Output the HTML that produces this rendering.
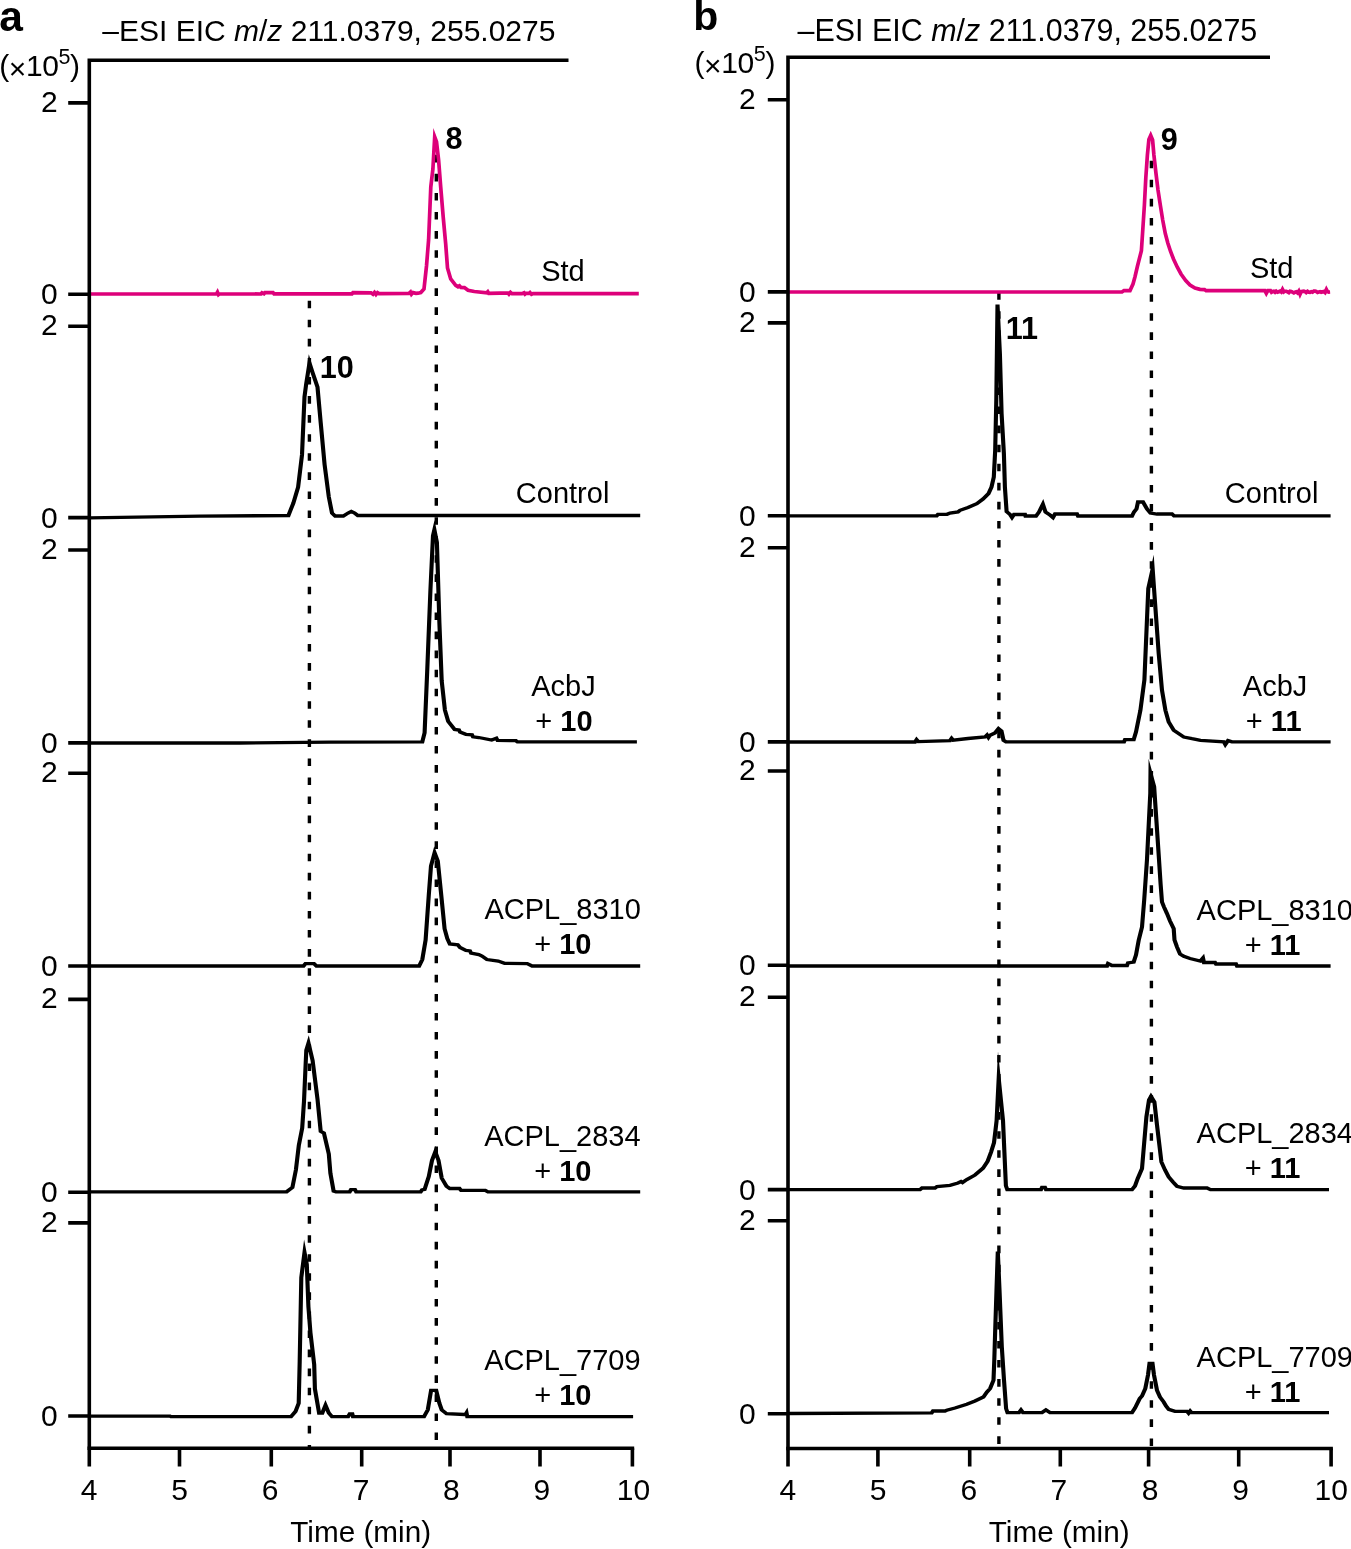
<!DOCTYPE html>
<html lang="en"><head><meta charset="utf-8"><title>EIC chromatograms</title>
<style>html,body{margin:0;padding:0;background:#fff;overflow:hidden}svg{display:block}text{font-family:"Liberation Sans",Arial,Helvetica,sans-serif;font-size:30px;fill:#000}.b{font-weight:bold}.i{font-style:italic}.e{text-anchor:end}.m{text-anchor:middle}.ax{stroke:#000;stroke-width:3.60;fill:none;stroke-linecap:butt}.tr{fill:none;stroke-width:3.4px;stroke-linejoin:miter;stroke-miterlimit:20;stroke-linecap:butt}.ds{stroke:#000;stroke-width:3.4;stroke-dasharray:7.6 11.47;fill:none}</style></head><body>
<svg width="1351" height="1549" viewBox="0 0 1351 1549">
<rect width="1351" height="1549" fill="#fff"/>
<line class="ds" x1="309.4" y1="300.7" x2="309.4" y2="1447.5"/>
<line class="ds" x1="436.3" y1="154.8" x2="436.3" y2="1447.5"/>
<line class="ds" x1="998.9" y1="292.1" x2="998.9" y2="1447.5"/>
<line class="ds" x1="1151.4" y1="160.7" x2="1151.4" y2="1447.5"/>
<polyline class="tr" stroke="#dd007a" style="stroke-width:3.7px" points="89.3,294.0 216.5,294.0 217.5,292.2 218.5,294.6 219.5,293.8 261.0,294.0 262.0,292.8 264.0,293.8 265.0,292.6 273.0,292.6 274.0,293.8 352.0,293.8 353.0,292.6 371.0,292.8 373.0,294.2 374.5,292.4 376.0,294.4 377.5,292.6 379.0,293.6 409.0,293.4 410.5,292.0 411.5,294.2 413.0,292.6 416.0,293.4 418.0,293.2 420.8,292.6 424.0,289.0 426.5,266.0 428.6,240.0 430.8,187.0 432.9,169.0 434.7,136.8 436.5,141.6 438.6,160.0 440.7,187.0 443.2,217.0 445.7,244.0 447.5,268.0 450.7,279.0 455.7,285.3 458.0,286.8 459.5,285.8 461.0,287.4 464.4,287.6 468.0,290.3 474.3,291.5 486.8,292.8 487.8,291.8 488.8,293.4 500.0,293.2 508.0,293.0 509.0,294.2 510.5,292.4 512.0,293.6 522.0,293.6 524.0,292.8 525.0,294.2 526.0,293.4 529.0,293.4 530.0,292.6 531.5,294.2 533.0,293.6 638.8,293.7"/>
<g transform="scale(1.25,1)"><polyline class="tr" stroke="#000" style="stroke-width:3.3px" points="71.44,517.9 160.00,516.2 230.72,515.5 232.00,511.4 234.64,503.3 238.48,487.2 241.60,454.9 243.60,396.8 244.96,383.9 247.60,363.0 250.08,372.6 254.00,387.1 256.56,422.6 259.68,464.6 263.04,496.9 265.60,513.0 268.16,516.0 274.64,516.0 278.48,513.0 281.04,511.4 283.68,513.0 286.24,515.5 512.16,515.5"/></g>
<g transform="scale(1.25,1)"><polyline class="tr" stroke="#000" style="stroke-width:3.3px" points="71.44,743.0 192.00,743.0 264.00,742.2 337.84,741.9 339.68,732.7 341.76,671.4 344.32,590.7 346.40,535.8 347.52,529.7 349.52,542.3 351.52,623.0 353.36,681.0 355.92,710.0 358.56,721.4 363.68,729.5 367.20,730.0 368.00,732.0 372.72,734.3 377.60,734.8 378.40,736.8 383.04,737.5 393.36,740.0 397.12,738.3 398.08,740.4 412.72,740.7 414.00,741.9 509.52,741.9"/></g>
<g transform="scale(1.25,1)"><polyline class="tr" stroke="#000" style="stroke-width:3.3px" points="71.44,966.0 242.80,966.0 244.40,963.6 251.20,963.6 253.20,966.0 335.28,966.0 337.84,959.5 340.48,940.0 343.04,894.9 344.80,865.9 347.68,852.7 350.24,861.0 352.72,891.7 355.68,928.8 357.84,938.5 359.84,944.0 366.24,944.9 368.00,947.5 372.72,950.4 376.00,951.0 376.80,953.0 383.04,954.6 385.60,956.0 389.52,959.5 398.56,961.1 403.68,963.3 421.76,963.7 425.68,966.0 512.16,966.0"/></g>
<g transform="scale(1.25,1)"><polyline class="tr" stroke="#000" style="stroke-width:3.3px" points="71.44,1191.8 229.28,1191.8 230.88,1190.3 233.92,1187.5 236.72,1169.9 239.04,1145.5 241.76,1128.0 243.20,1101.3 244.56,1063.0 245.04,1050.2 246.80,1043.0 250.08,1060.4 254.00,1099.1 256.56,1131.4 259.12,1133.0 263.04,1154.0 264.32,1173.3 266.88,1191.0 268.80,1191.8 279.76,1191.8 280.80,1189.6 284.00,1189.6 284.96,1191.8 336.56,1191.8 337.60,1190.0 339.68,1189.4 343.04,1176.5 345.60,1160.4 348.24,1151.7 350.80,1160.4 353.36,1178.1 357.20,1186.2 359.84,1188.5 367.60,1188.5 368.88,1190.4 388.24,1190.4 390.32,1191.8 512.16,1191.8"/></g>
<g transform="scale(1.25,1)"><polyline class="tr" stroke="#000" style="stroke-width:3.3px" points="71.44,1416.2 136.00,1416.2 136.80,1416.7 232.80,1416.7 236.40,1411.4 238.96,1403.3 239.76,1361.4 241.04,1277.5 243.60,1252.5 245.44,1264.5 246.72,1306.5 248.32,1332.3 251.36,1364.6 251.92,1388.8 255.28,1413.0 257.84,1413.0 260.40,1405.2 263.04,1413.0 265.60,1416.7 278.48,1416.7 279.76,1414.0 281.84,1414.0 282.40,1416.7 339.20,1416.7 342.24,1409.8 344.88,1390.4 348.96,1390.4 351.52,1403.3 353.36,1409.8 357.20,1413.6 371.44,1414.5 372.48,1414.2 373.20,1412.8 373.84,1416.7 506.48,1416.7"/></g>
<polyline class="tr" stroke="#dd007a" style="stroke-width:3.7px" points="788.0,292.0 1122.0,292.0 1124.0,290.6 1130.0,290.6 1133.0,284.0 1135.0,276.7 1137.5,266.0 1141.4,250.7 1142.9,228.0 1144.4,205.0 1145.8,178.0 1147.4,155.0 1148.9,139.5 1150.7,135.5 1152.6,140.0 1153.9,155.0 1155.9,172.7 1158.0,190.0 1160.3,205.0 1162.7,220.0 1165.3,233.5 1167.8,243.0 1170.4,251.0 1173.5,259.0 1177.2,267.0 1181.0,274.0 1185.7,280.5 1190.0,285.0 1195.0,288.0 1200.0,289.4 1204.5,289.6 1206.0,290.7 1264.8,290.7 1266.3,293.4 1267.8,290.7 1270.5,290.7 1271.5,292.2 1272.5,291.6 1273.8,291.3 1275.0,292.3 1276.2,291.1 1277.5,292.1 1278.8,291.7 1280.0,291.1 1281.2,292.0 1282.5,289.4 1283.8,291.9 1285.0,291.1 1286.2,291.2 1287.5,291.9 1288.8,292.6 1290.0,291.2 1291.2,291.4 1292.5,292.2 1293.8,292.9 1295.0,292.1 1296.2,291.8 1297.5,292.9 1298.8,291.1 1300.0,294.2 1301.2,291.6 1302.5,291.3 1303.8,291.2 1305.0,291.6 1306.2,292.6 1307.5,291.4 1308.8,292.2 1310.0,292.3 1311.2,291.7 1312.5,292.1 1313.8,291.1 1315.0,291.1 1316.2,291.4 1317.5,292.4 1318.8,291.9 1320.0,291.6 1321.2,292.2 1322.5,291.9 1323.8,291.6 1325.0,292.6 1326.4,289.4 1327.5,291.5 1328.8,292.1 1330.1,292.0"/>
<g transform="scale(1.25,1)"><polyline class="tr" stroke="#000" style="stroke-width:3.3px" points="630.40,515.8 749.36,515.8 750.40,514.3 757.60,514.3 760.00,513.0 766.40,512.0 768.00,510.3 774.40,507.5 781.44,503.6 786.40,499.0 790.80,493.6 793.20,487.0 795.04,477.0 796.16,450.0 797.04,400.0 798.00,304.5 799.92,353.7 801.28,413.8 803.12,453.9 803.92,487.2 805.28,511.5 808.00,514.5 809.60,517.5 811.20,514.5 820.00,514.5 820.40,516.0 828.80,516.0 831.20,512.0 834.32,504.2 836.40,512.0 840.00,515.0 842.40,517.5 844.00,514.0 861.60,514.0 862.40,516.0 905.60,516.0 907.20,512.0 909.20,509.0 910.40,502.0 914.40,502.0 917.60,509.0 920.32,513.0 925.60,514.0 937.60,514.0 939.20,515.8 1064.48,515.8"/></g>
<g transform="scale(1.25,1)"><polyline class="tr" stroke="#000" style="stroke-width:3.3px" points="630.40,742.0 732.00,742.0 733.28,739.6 734.72,741.6 760.00,740.6 761.28,738.4 762.56,740.2 774.40,738.5 788.00,737.0 789.60,735.0 790.80,737.5 792.00,735.3 796.00,733.0 798.80,728.6 801.20,731.0 802.80,740.3 804.80,741.9 899.20,741.9 900.00,739.7 906.96,739.7 908.80,732.0 912.32,710.3 915.52,680.0 918.64,588.5 922.12,569.0 924.08,603.5 926.96,653.5 929.60,690.3 932.32,710.3 934.96,722.0 938.96,730.3 947.04,737.0 953.60,738.7 960.40,740.3 979.04,741.9 980.24,744.6 982.40,740.6 985.60,741.9 1064.48,741.9"/></g>
<g transform="scale(1.25,1)"><polyline class="tr" stroke="#000" style="stroke-width:3.3px" points="630.40,966.0 885.60,966.0 886.40,963.5 889.60,965.5 901.60,965.5 902.40,963.0 906.96,962.0 908.80,955.0 910.96,940.3 913.60,927.0 915.36,900.0 917.60,859.5 920.24,793.0 920.40,773.4 923.32,786.8 927.20,859.5 928.48,884.0 929.60,902.0 931.20,907.0 933.60,913.6 936.00,921.0 938.96,928.6 939.60,940.0 941.60,947.0 944.00,954.0 947.04,956.3 952.00,958.5 960.32,961.0 962.40,958.0 963.20,962.5 972.00,962.5 972.80,964.0 988.80,964.0 989.60,966.0 1064.48,966.0"/></g>
<g transform="scale(1.25,1)"><polyline class="tr" stroke="#000" style="stroke-width:3.3px" points="630.40,1189.6 736.00,1189.6 737.60,1188.0 748.00,1188.0 749.60,1186.5 760.00,1185.3 766.40,1183.0 768.80,1181.6 770.00,1182.6 773.44,1179.6 780.00,1175.0 786.40,1168.2 790.08,1161.3 792.88,1152.0 795.20,1142.7 796.32,1131.0 797.28,1120.6 798.96,1078.4 802.40,1120.6 804.72,1185.7 805.84,1189.6 832.80,1189.6 833.60,1187.5 836.00,1187.5 836.80,1189.6 905.60,1189.6 908.00,1186.0 910.16,1178.6 913.60,1168.6 915.20,1145.0 917.12,1117.0 919.20,1100.0 920.80,1096.4 923.52,1101.9 925.60,1125.0 929.12,1162.0 932.00,1170.0 934.96,1177.0 938.40,1182.0 941.60,1186.3 947.04,1188.0 965.60,1188.0 968.40,1189.6 1063.20,1189.6"/></g>
<g transform="scale(1.25,1)"><polyline class="tr" stroke="#000" style="stroke-width:3.3px" points="630.40,1413.5 745.36,1412.8 746.40,1411.0 756.00,1411.0 757.36,1410.3 764.00,1408.0 773.44,1404.3 780.00,1401.0 786.72,1397.0 789.60,1392.0 792.08,1388.6 794.80,1380.3 795.44,1360.0 796.08,1333.5 797.20,1290.0 798.24,1251.6 799.60,1290.0 801.44,1346.9 803.20,1380.0 804.88,1408.6 806.00,1412.6 815.20,1412.6 816.80,1410.0 818.40,1412.6 833.60,1412.6 836.72,1410.0 840.00,1412.6 905.60,1412.6 908.00,1408.0 911.76,1398.6 913.60,1396.0 916.24,1388.6 918.40,1375.0 919.60,1363.5 922.00,1363.5 923.20,1375.0 925.60,1390.3 928.00,1397.0 930.96,1402.0 932.80,1406.0 934.96,1409.3 940.00,1411.3 949.60,1411.3 950.88,1413.2 952.16,1411.0 953.28,1412.6 1063.20,1412.6"/></g>
<path class="ax" d="M568.5,60.2 H87.50 M89.3,58.40 V1466.5"/>
<path class="ax" d="M87.50,1448.3 H634.20"/>
<path class="ax" d="M179.5,1448.3 V1466.5 M271.3,1448.3 V1466.5 M361.7,1448.3 V1466.5 M450.0,1448.3 V1466.5 M540.0,1448.3 V1466.5 M632.4,1448.3 V1466.5 "/>
<path class="ax" d="M68.2,102.9 H89.3 M68.2,326.2 H89.3 M68.2,550.0 H89.3 M68.2,773.3 H89.3 M68.2,999.4 H89.3 M68.2,1222.9 H89.3 M68.2,294.2 H89.3 M68.2,517.6 H89.3 M68.2,742.9 H89.3 M68.2,966.0 H89.3 M68.2,1192.3 H89.3 M68.2,1416.0 H89.3 "/>
<path class="ax" d="M1270.0,57.3 H786.20 M788.0,55.50 V1466.6"/>
<path class="ax" d="M786.20,1448.5 H1332.90"/>
<path class="ax" d="M877.9,1448.5 V1466.6 M969.7,1448.5 V1466.6 M1060.3,1448.5 V1466.6 M1148.6,1448.5 V1466.6 M1238.7,1448.5 V1466.6 M1331.1,1448.5 V1466.6 "/>
<path class="ax" d="M767.8,99.7 H788.0 M767.8,322.9 H788.0 M767.8,547.8 H788.0 M767.8,771.0 H788.0 M767.8,997.2 H788.0 M767.8,1220.7 H788.0 M767.8,291.9 H788.0 M767.8,515.8 H788.0 M767.8,741.9 H788.0 M767.8,965.3 H788.0 M767.8,1189.6 H788.0 M767.8,1413.7 H788.0 "/>
<text x="-0.8" y="31.0" class="b" style="font-size:42.5px">a</text>
<text x="693.2" y="30.4" class="b" style="font-size:41px">b</text>
<text x="102.3" y="41.1">&#8211;ESI EIC <tspan class="i">m</tspan>/<tspan class="i">z</tspan> 211.0379, 255.0275</text>
<text x="797.6" y="41.0" style="font-size:30.45px">&#8211;ESI EIC <tspan class="i">m</tspan>/<tspan class="i">z</tspan> 211.0379, 255.0275</text>
<text x="-0.8" y="76.0" style="letter-spacing:-0.4px">(<tspan dy="2.8">&#215;</tspan><tspan dy="-2.8">1</tspan>0<tspan dy="-12.2" style="font-size:21.5px">5</tspan><tspan dy="12.2">)</tspan></text>
<text x="694.5" y="73.0" style="letter-spacing:-0.4px">(<tspan dy="2.8">&#215;</tspan><tspan dy="-2.8">1</tspan>0<tspan dy="-12.2" style="font-size:21.5px">5</tspan><tspan dy="12.2">)</tspan></text>
<text x="57.6" y="111.9" class="e">2</text>
<text x="57.6" y="335.2" class="e">2</text>
<text x="57.6" y="559.0" class="e">2</text>
<text x="57.6" y="782.3" class="e">2</text>
<text x="57.6" y="1008.4" class="e">2</text>
<text x="57.6" y="1231.9" class="e">2</text>
<text x="57.6" y="304.1" class="e">0</text>
<text x="57.6" y="527.5" class="e">0</text>
<text x="57.6" y="752.8" class="e">0</text>
<text x="57.6" y="975.9" class="e">0</text>
<text x="57.6" y="1202.2" class="e">0</text>
<text x="57.6" y="1426.0" class="e">0</text>
<text x="755.8" y="108.7" class="e">2</text>
<text x="755.8" y="331.9" class="e">2</text>
<text x="755.8" y="556.8" class="e">2</text>
<text x="755.8" y="780.0" class="e">2</text>
<text x="755.8" y="1006.2" class="e">2</text>
<text x="755.8" y="1229.7" class="e">2</text>
<text x="755.8" y="301.8" class="e">0</text>
<text x="755.8" y="525.7" class="e">0</text>
<text x="755.8" y="751.8" class="e">0</text>
<text x="755.8" y="975.2" class="e">0</text>
<text x="755.8" y="1199.5" class="e">0</text>
<text x="755.8" y="1423.6" class="e">0</text>
<text x="89.0" y="1500.2" class="m">4</text>
<text x="179.5" y="1500.2" class="m">5</text>
<text x="270.1" y="1500.2" class="m">6</text>
<text x="361.0" y="1500.2" class="m">7</text>
<text x="451.4" y="1500.2" class="m">8</text>
<text x="541.9" y="1500.2" class="m">9</text>
<text x="633.4" y="1500.2" class="m">10</text>
<text x="787.8" y="1500.2" class="m">4</text>
<text x="878.1" y="1500.2" class="m">5</text>
<text x="968.8" y="1500.2" class="m">6</text>
<text x="1058.9" y="1500.2" class="m">7</text>
<text x="1150.0" y="1500.2" class="m">8</text>
<text x="1240.6" y="1500.2" class="m">9</text>
<text x="1331.3" y="1500.2" class="m">10</text>
<text x="360.7" y="1542.3" class="m" style="font-size:29.7px">Time (min)</text>
<text x="1059.2" y="1542.3" class="m" style="font-size:29.7px">Time (min)</text>
<text x="562.9" y="280.6" class="m" style="font-size:29px">Std</text>
<text x="562.6" y="502.6" class="m" style="font-size:29px">Control</text>
<text x="563.4" y="695.7" class="m" style="font-size:29px">AcbJ</text>
<text x="563.9" y="730.9" class="m" style="font-size:29px">+ <tspan class="b">10</tspan></text>
<text x="562.6" y="919.2" class="m" style="font-size:29px">ACPL_8310</text>
<text x="562.8" y="954.1" class="m" style="font-size:29px">+ <tspan class="b">10</tspan></text>
<text x="562.4" y="1146.1" class="m" style="font-size:29px">ACPL_2834</text>
<text x="562.8" y="1181.2" class="m" style="font-size:29px">+ <tspan class="b">10</tspan></text>
<text x="562.4" y="1370.1" class="m" style="font-size:29px">ACPL_7709</text>
<text x="562.8" y="1405.0" class="m" style="font-size:29px">+ <tspan class="b">10</tspan></text>
<text x="445.5" y="148.8" class="b" style="font-size:30.6px">8</text>
<text x="319.8" y="377.7" class="b" style="font-size:30.6px">10</text>
<text x="1271.7" y="278.0" class="m" style="font-size:29px">Std</text>
<text x="1271.6" y="502.9" class="m" style="font-size:29px">Control</text>
<text x="1275.1" y="695.7" class="m" style="font-size:29px">AcbJ</text>
<text x="1273.7" y="730.9" class="m" style="font-size:29px">+ <tspan class="b">11</tspan></text>
<text x="1196.6" y="919.5" style="font-size:29px">ACPL_8310</text>
<text x="1272.5" y="954.8" class="m" style="font-size:29px">+ <tspan class="b">11</tspan></text>
<text x="1196.6" y="1142.5" style="font-size:29px">ACPL_2834</text>
<text x="1272.5" y="1177.6" class="m" style="font-size:29px">+ <tspan class="b">11</tspan></text>
<text x="1196.6" y="1366.6" style="font-size:29px">ACPL_7709</text>
<text x="1272.5" y="1401.7" class="m" style="font-size:29px">+ <tspan class="b">11</tspan></text>
<text x="1160.8" y="149.6" class="b" style="font-size:30.6px">9</text>
<text x="1005.8" y="338.5" class="b" style="font-size:30.6px">11</text>
</svg></body></html>
